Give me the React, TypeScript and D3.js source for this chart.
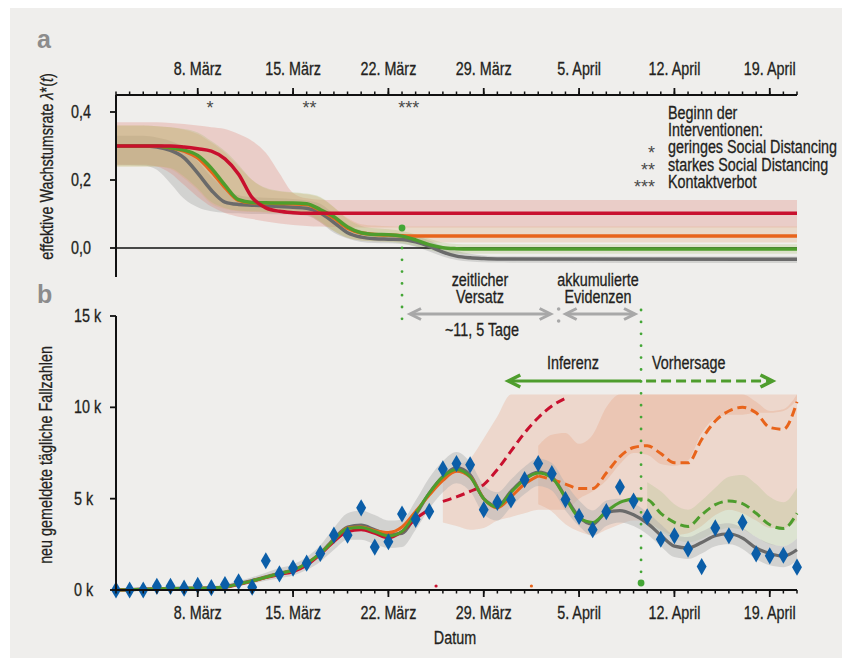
import * as React from 'react';
import * as d3 from 'd3';

const W = 842;
const H = 671;
const DAY = 864e5;
const t0 = new Date(Date.UTC(2020, 2, 2));
const t1 = new Date(Date.UTC(2020, 3, 21));

// panel a: knot days (days after 2 March) and effective growth rate per model
const rateDays = [0, 2, 3, 4, 5, 6, 7, 8, 9, 10, 11, 12, 13, 14, 15, 16, 17, 18, 19, 20, 21, 22, 23, 24, 25, 26, 27, 28, 50];
const rateRed = [0.3, 0.3, 0.3, 0.3, 0.297, 0.292, 0.285, 0.262, 0.217, 0.148, 0.118, 0.108, 0.104, 0.102, 0.102, 0.102, 0.102, 0.102, 0.102, 0.102, 0.102, 0.102, 0.102, 0.102, 0.102, 0.102, 0.102, 0.102, 0.102];
const rateOrange = [0.3, 0.3, 0.3, 0.295, 0.285, 0.265, 0.225, 0.178, 0.14, 0.133, 0.132, 0.131, 0.13, 0.128, 0.11, 0.088, 0.058, 0.044, 0.04, 0.038, 0.036, 0.035, 0.035, 0.035, 0.035, 0.035, 0.035, 0.035, 0.035];
const rateGreen = [0.3, 0.3, 0.3, 0.295, 0.288, 0.272, 0.235, 0.185, 0.142, 0.134, 0.133, 0.132, 0.132, 0.13, 0.113, 0.092, 0.062, 0.045, 0.04, 0.039, 0.035, 0.024, 0.01, 0.001, -0.002, -0.003, -0.003, -0.003, -0.003];
const rateGray = [0.3, 0.3, 0.297, 0.287, 0.265, 0.22, 0.17, 0.135, 0.128, 0.126, 0.124, 0.122, 0.12, 0.117, 0.103, 0.075, 0.045, 0.032, 0.027, 0.026, 0.025, 0.018, 0.005, -0.012, -0.024, -0.029, -0.031, -0.032, -0.033];

const rateRedLo = [0.245, 0.245, 0.24, 0.22, 0.185, 0.15, 0.122, 0.103, 0.092, 0.085, 0.078, 0.072, 0.068, 0.065, 0.063, 0.062, 0.061, 0.06, 0.06, 0.06, 0.06, 0.06, 0.06, 0.06, 0.06, 0.06, 0.06, 0.06, 0.06];
const rateRedHi = [0.37, 0.37, 0.37, 0.368, 0.365, 0.36, 0.355, 0.35, 0.335, 0.315, 0.28, 0.22, 0.162, 0.146, 0.142, 0.141, 0.141, 0.141, 0.141, 0.141, 0.141, 0.141, 0.141, 0.141, 0.141, 0.141, 0.141, 0.141, 0.141];
const rateOrangeLo = [0.24, 0.24, 0.24, 0.232, 0.205, 0.17, 0.13, 0.115, 0.108, 0.106, 0.104, 0.103, 0.102, 0.098, 0.076, 0.05, 0.03, 0.022, 0.02, 0.019, 0.018, 0.017, 0.016, 0.016, 0.016, 0.016, 0.016, 0.016, 0.016];
const rateOrangeHi = [0.36, 0.36, 0.358, 0.355, 0.348, 0.335, 0.31, 0.28, 0.24, 0.2, 0.175, 0.166, 0.162, 0.158, 0.148, 0.12, 0.088, 0.07, 0.066, 0.064, 0.063, 0.063, 0.063, 0.063, 0.063, 0.063, 0.063, 0.063, 0.063];
const rateGreenLo = [0.24, 0.24, 0.24, 0.235, 0.21, 0.175, 0.135, 0.118, 0.11, 0.108, 0.106, 0.105, 0.104, 0.1, 0.078, 0.05, 0.03, 0.022, 0.02, 0.018, 0.014, 0.005, -0.006, -0.014, -0.016, -0.017, -0.017, -0.017, -0.017];
const rateGreenHi = [0.36, 0.36, 0.358, 0.355, 0.35, 0.34, 0.315, 0.285, 0.245, 0.2, 0.177, 0.168, 0.164, 0.16, 0.15, 0.12, 0.085, 0.065, 0.058, 0.055, 0.05, 0.04, 0.027, 0.016, 0.012, 0.011, 0.011, 0.011, 0.011];
const rateGrayLo = [0.245, 0.243, 0.23, 0.19, 0.145, 0.12, 0.108, 0.104, 0.102, 0.1, 0.1, 0.099, 0.098, 0.095, 0.075, 0.045, 0.028, 0.018, 0.015, 0.014, 0.012, 0.004, -0.01, -0.025, -0.035, -0.04, -0.042, -0.043, -0.044];
const rateGrayHi = [0.33, 0.33, 0.325, 0.315, 0.295, 0.255, 0.21, 0.175, 0.155, 0.15, 0.148, 0.146, 0.144, 0.14, 0.13, 0.1, 0.07, 0.052, 0.045, 0.043, 0.042, 0.035, 0.022, 0.005, -0.008, -0.017, -0.022, -0.024, -0.025];

const rateTicks = [0, 0.2, 0.4];
const interventions = [{ day: 6.9, mark: '*' }, { day: 14.2, mark: '**' }, { day: 21.5, mark: '***' }];
const legendLines = ['Beginn der', 'Interventionen:'];
const legendItems = [
  { mark: '*', label: 'geringes Social Distancing' },
  { mark: '**', label: 'starkes Social Distancing' },
  { mark: '***', label: 'Kontaktverbot' },
];

// panel b: new reported cases per day, in thousands (day 0 = 2 March)
const reported = [0, 0, 0, 0.2, 0.2, 0.1, 0.25, 0.13, 0.3, 0.45, 0.15, 1.6, 0.88, 1.2, 1.47, 2.0, 3.0, 3.0, 4.5, 2.35, 2.64, 4.16, 3.87, 4.3, 6.63, 6.92, 6.85, 4.4, 4.8, 4.93, 6.04, 6.92, 6.37, 4.95, 4.03, 3.3, 4.29, 5.64, 4.87, 4.0, 2.78, 2.97, 2.24, 1.28, 3.4, 2.97, 3.7, 1.98, 1.87, 1.9, 1.25];
const casesGray = [0, 0.02, 0.04, 0.06, 0.08, 0.09, 0.1, 0.11, 0.17, 0.35, 0.52, 0.72, 0.92, 1.1, 1.45, 2.0, 2.8, 3.45, 3.55, 3.3, 3.05, 3.1, 4.1, 5.3, 6.2, 6.7, 6.3, 5.0, 4.6, 5.4, 6.1, 6.45, 6.2, 5.1, 4.0, 3.6, 4.25, 4.35, 4.12, 3.66, 3.0, 2.4, 2.3, 2.6, 2.97, 3.08, 2.84, 2.3, 2.0, 1.85, 2.2];
const casesGreen = [0, 0.02, 0.04, 0.06, 0.08, 0.09, 0.1, 0.11, 0.16, 0.33, 0.5, 0.7, 0.9, 1.08, 1.45, 2.0, 2.73, 3.37, 3.42, 3.2, 2.95, 3.2, 4.2, 5.3, 6.2, 6.6, 6.2, 5.0, 4.55, 5.35, 6.05, 6.4, 6.15, 5.05, 3.95, 3.7, 4.3, 4.8, 5.0, 4.95, 4.2, 3.7, 3.48, 4.12, 4.67, 4.87, 4.73, 4.2, 3.57, 3.37, 4.2];
const casesOrange = [0, 0.02, 0.04, 0.06, 0.08, 0.09, 0.1, 0.11, 0.16, 0.33, 0.5, 0.7, 0.9, 1.08, 1.45, 2.0, 2.75, 3.4, 3.45, 3.25, 3.15, 3.45, 4.3, 5.2, 6.0, 6.5, 6.2, 5.0, 4.5, 5.1, 5.8, 6.25, 6.05, 5.8, 5.55, 5.55, 6.4, 7.3, 7.8, 7.9, 7.47, 6.96, 6.96, 8.24, 9.25, 9.8, 10.0, 9.7, 8.9, 8.8, 10.3];
const casesRed = [0, 0.02, 0.04, 0.05, 0.06, 0.07, 0.08, 0.09, 0.15, 0.3, 0.48, 0.68, 0.85, 1.0, 1.35, 1.95, 2.65, 3.2, 3.3, 3.1, 2.85, 3.2, 3.9, 4.4, 4.85, 5.1, 5.4, 5.77, 6.6, 7.6, 8.6, 9.43, 10.07, 10.5];
// last day fitted with data for each model (dashed afterwards)
const fitEnd = { red: 23, orange: 31, green: 38 };
const fitEndMarks = [{ day: 23.5, color: 'red' }, { day: 30.5, color: 'orange' }];

const caseGrayLo = [-0.1, -0.08, -0.06, -0.04, -0.02, 0, 0, 0, 0.05, 0.2, 0.35, 0.5, 0.65, 0.8, 1.1, 1.55, 2.2, 2.75, 2.75, 2.5, 2.3, 2.35, 3.3, 4.45, 5.35, 5.85, 5.4, 4.15, 3.8, 4.55, 5.25, 5.7, 5.45, 4.35, 3.5, 2.95, 3.5, 3.7, 3.5, 3.05, 2.4, 1.8, 1.7, 2.0, 2.4, 2.5, 2.25, 1.7, 1.35, 1.25, 1.6];
const caseGrayHi = [0.1, 0.12, 0.14, 0.16, 0.18, 0.2, 0.2, 0.22, 0.3, 0.5, 0.7, 0.95, 1.2, 1.4, 1.8, 2.45, 3.4, 4.2, 4.35, 4.1, 3.8, 3.85, 4.9, 6.15, 7.05, 7.55, 7.0, 5.75, 5.35, 6.05, 6.75, 7.2, 6.95, 5.85, 4.9, 4.35, 4.9, 5.0, 4.75, 4.25, 3.6, 3.0, 2.9, 3.2, 3.55, 3.65, 3.4, 2.9, 2.55, 2.4, 2.8];
const caseRedStart = 24;
const caseRedLo = [3.7, 3.5, 3.3, 3.4, 3.8, 4.0, 4.2, 4.4, 4.4, 4.4, 5.0, 5.4, 6.0, 6.9, 7.5, 7.4, 6.9, 6.8, 7.1, 8.6, 9.4, 9.6, 9.6, 9.7, 9.7, 9.8, 10.4];
const caseRedHi = [6.3, 6.8, 7.2, 8.3, 9.5, 10.7, 10.7, 10.7, 10.7, 10.7, 10.7, 10.7, 10.7, 10.7, 10.7, 10.7, 10.7, 10.7, 10.7, 10.7, 10.7, 10.7, 10.7, 10.7, 10.7, 10.7, 10.7];
const caseOrangeStart = 31;
const caseOrangeLo = [4.7, 4.3, 3.6, 3.2, 3.0, 3.3, 3.6, 3.8, 3.7, 3.3, 3.0, 3.1, 3.5, 4.1, 4.4, 4.2, 3.8, 3.4, 3.4, 3.8];
const caseOrangeHi = [7.9, 8.5, 8.6, 8.0, 8.5, 10.0, 10.7, 10.7, 10.7, 10.7, 10.7, 10.7, 10.7, 10.7, 10.7, 10.7, 10.3, 9.8, 9.9, 10.7];
const caseGreenStart = 39;
const caseGreenLo = [3.6, 3.2, 2.8, 2.6, 2.8, 3.2, 3.4, 3.3, 2.9, 2.5, 2.4, 2.8];
const caseGreenHi = [5.9, 5.4, 4.7, 4.4, 4.9, 5.6, 6.2, 6.3, 5.8, 5.1, 4.8, 5.6];
const caseTicks = [0, 5, 10, 15];

// annotation days
const lagStart = 21;
const lagEnd = 32.5;
const today = 38.55;
const inferStart = 28.8;
const forecastEnd = 48.2;

const LEFT = 116;
const RIGHT = 797;
const A_TOP = 95;
const A_BOTTOM = 277;
const B_TOP = 316;
const B_BOTTOM = 590;

const COL = {
  red: '#c8102e',
  orange: '#e8641b',
  green: '#4e9d2d',
  gray: '#6a6a6a',
  blue: '#0b5ea8',
  dot: '#44a636',
  arrow: '#a8a8a8',
  text: '#231f20',
  bg: '#efeeec',
};
const FONT = "'Liberation Sans', Arial, sans-serif";
const FS = 17.5;

const de = d3.timeFormatLocale({
  dateTime: '%A, %e. %B %Y, %X',
  date: '%d.%m.%Y',
  time: '%H:%M:%S',
  periods: ['AM', 'PM'],
  days: ['Sonntag', 'Montag', 'Dienstag', 'Mittwoch', 'Donnerstag', 'Freitag', 'Samstag'],
  shortDays: ['So', 'Mo', 'Di', 'Mi', 'Do', 'Fr', 'Sa'],
  months: ['Januar', 'Februar', 'März', 'April', 'Mai', 'Juni', 'Juli', 'August', 'September', 'Oktober', 'November', 'Dezember'],
  shortMonths: ['Jan', 'Feb', 'Mrz', 'Apr', 'Mai', 'Jun', 'Jul', 'Aug', 'Sep', 'Okt', 'Nov', 'Dez'],
});
const fmtDate = de.utcFormat('%-d. %B');
const fmtRate = d3.formatLocale({ decimal: ',', thousands: '.', grouping: [3], currency: ['', ' €'] }).format('.1f');

// condensed text: Liberation Sans squeezed horizontally
const T = ({ x, y, anchor = 'start', rotate = 0, fill = COL.text, children }) => (
  <text
    transform={`translate(${x},${y})${rotate ? ` rotate(${rotate})` : ''} scale(0.82,1)`}
    textAnchor={anchor}
    fontFamily={FONT}
    fontSize={FS}
    fill={fill}
    stroke={fill}
    strokeWidth={0.3}>
    {children}
  </text>
);

const Chevron = ({ x, y, dir, size, color, width }) => (
  <polyline
    points={`${x - dir * size},${y - size * 0.5} ${x},${y} ${x - dir * size},${y + size * 0.5}`}
    fill='none'
    stroke={color}
    strokeWidth={width}
    strokeLinejoin='miter'
  />
);

const App = () => {
  const x = d3.scaleUtc().domain([t0, t1]).range([LEFT, RIGHT]);
  const xd = (d: number) => x(new Date(t0.getTime() + d * DAY));
  const yA = d3.scaleLinear().domain([-0.0853, 0.45]).range([A_BOTTOM, A_TOP]);
  const yB = d3.scaleLinear().domain([0, 15]).range([B_BOTTOM, B_TOP]);

  const dayTicks = x.ticks(d3.utcDay);
  const weekTicks = x.ticks(d3.utcWeek);

  const lineA = (vals: number[]) =>
    d3.line<number>().x((_, i) => xd(rateDays[i])).y((v) => yA(v)).curve(d3.curveMonotoneX)(vals);
  const areaA = (lo: number[], hi: number[]) =>
    d3
      .area<number>()
      .x((_, i) => xd(rateDays[i]))
      .y0((_, i) => yA(lo[i]))
      .y1((_, i) => yA(hi[i]))
      .curve(d3.curveMonotoneX)(lo);

  const lineB = (vals: number[], from: number, to: number) =>
    d3
      .line<number>()
      .x((_, i) => xd(from + i))
      .y((v) => yB(v))
      .curve(d3.curveMonotoneX)(vals.slice(from, to + 1));
  const areaB = (lo: number[], hi: number[], start: number) =>
    d3
      .area<number>()
      .x((_, i) => xd(start + i))
      .y0((_, i) => yB(lo[i]))
      .y1((_, i) => yB(hi[i]))
      .curve(d3.curveMonotoneX)(lo);

  const diamond = d3.symbol().type(d3.symbolDiamond).size(85)();

  const arrowY = 314;
  const inferY = 381;
  const star = { fontFamily: FONT, fontSize: 18, fill: '#4a4a4a' };

  return (
    <svg width={W} height={H} style={{ position: 'absolute', left: 0, top: 0 }}>
      <rect x={10} y={8} width={W - 10} height={650} fill={COL.bg} />

      {/* panel letters */}
      <text x={37} y={48} fontFamily={FONT} fontWeight='bold' fontSize={25} fill='#8c8c8c'>a</text>
      <text x={37} y={303} fontFamily={FONT} fontWeight='bold' fontSize={25} fill='#8c8c8c'>b</text>

      {/* ---------- panel a ---------- */}
      <path d={areaA(rateGrayLo, rateGrayHi)} fill='#b0b0b0' opacity={0.45} />
      <path d={areaA(rateRedLo, rateRedHi)} fill='#e07a6a' opacity={0.28} />
      <path d={areaA(rateOrangeLo, rateOrangeHi)} fill='#dea56e' opacity={0.28} />
      <path d={areaA(rateGreenLo, rateGreenHi)} fill='#a0b862' opacity={0.24} />
      <line x1={LEFT} x2={RIGHT} y1={yA(0)} y2={yA(0)} stroke='#111' strokeWidth={1.5} />
      <path d={lineA(rateGray)} fill='none' stroke={COL.gray} strokeWidth={3.5} />
      <path d={lineA(rateOrange)} fill='none' stroke={COL.orange} strokeWidth={3.5} />
      <path d={lineA(rateGreen)} fill='none' stroke={COL.green} strokeWidth={3.5} />
      <path d={lineA(rateRed)} fill='none' stroke={COL.red} strokeWidth={3.5} />

      {/* top date axis */}
      <line x1={LEFT} x2={RIGHT} y1={A_TOP} y2={A_TOP} stroke='#111' strokeWidth={2} />
      {dayTicks.map((d, i) => (
        <line key={'ad' + i} x1={x(d)} x2={x(d)} y1={A_TOP} y2={A_TOP - 3.5} stroke='#111' strokeWidth={1.5} />
      ))}
      {weekTicks.map((d, i) => (
        <g key={'aw' + i}>
          <line x1={x(d)} x2={x(d)} y1={A_TOP} y2={A_TOP - 7} stroke='#111' strokeWidth={1.8} />
          <T x={x(d)} y={75} anchor='middle'>{fmtDate(d)}</T>
        </g>
      ))}
      {/* rate axis */}
      <line x1={LEFT} x2={LEFT} y1={A_TOP} y2={A_BOTTOM} stroke='#111' strokeWidth={2} />
      {rateTicks.map((v) => (
        <g key={'rt' + v}>
          <line x1={LEFT - 6} x2={LEFT} y1={yA(v)} y2={yA(v)} stroke='#111' strokeWidth={1.8} />
          <T x={71} y={yA(v) + 6}>{fmtRate(v)}</T>
        </g>
      ))}
      <T x={53} y={166.5} anchor='middle' rotate={-90}>
        effektive Wachstumsrate <tspan fontStyle='italic'>λ</tspan>*(<tspan fontStyle='italic'>t</tspan>)
      </T>
      {interventions.map((m) => (
        <text key={m.mark} x={xd(m.day)} y={114} textAnchor='middle' {...star}>{m.mark}</text>
      ))}
      {legendLines.map((s, i) => (
        <T key={s} x={668} y={118.5 + i * 17.4}>{s}</T>
      ))}
      {legendItems.map((it, i) => (
        <g key={it.label}>
          <text x={655} y={158.5 + i * 17.4} textAnchor='end' {...star}>{it.mark}</text>
          <T x={668} y={153.4 + i * 17.4}>{it.label}</T>
        </g>
      ))}

      {/* ---------- annotations between panels ---------- */}
      <line x1={xd(lagStart)} x2={xd(lagStart)} y1={248} y2={320} stroke={COL.dot} strokeWidth={2.8} strokeLinecap='round' strokeDasharray='0 11.8' />
      <circle cx={xd(lagStart)} cy={228} r={3.4} fill={COL.dot} />
      <T x={480} y={286} anchor='middle'>zeitlicher</T>
      <T x={480} y={303.3} anchor='middle'>Versatz</T>
      <T x={598} y={286} anchor='middle'>akkumulierte</T>
      <T x={598} y={303.3} anchor='middle'>Evidenzen</T>
      <line x1={xd(lagStart) + 9} x2={xd(lagEnd) - 9} y1={arrowY} y2={arrowY} stroke={COL.arrow} strokeWidth={3} />
      <Chevron x={xd(lagStart) + 8} y={arrowY} dir={-1} size={11} color={COL.arrow} width={3} />
      <Chevron x={xd(lagEnd) - 8} y={arrowY} dir={1} size={11} color={COL.arrow} width={3} />
      <circle cx={xd(lagEnd)} cy={arrowY - 5} r={1.8} fill={COL.arrow} />
      <circle cx={xd(lagEnd)} cy={arrowY + 7} r={1.8} fill={COL.arrow} />
      <line x1={xd(lagEnd) + 8} x2={xd(today) - 7} y1={arrowY} y2={arrowY} stroke={COL.arrow} strokeWidth={3} />
      <Chevron x={xd(lagEnd) + 7} y={arrowY} dir={-1} size={11} color={COL.arrow} width={3} />
      <Chevron x={xd(today) - 6} y={arrowY} dir={1} size={11} color={COL.arrow} width={3} />
      <T x={482} y={335.7} anchor='middle'>~11, 5 Tage</T>

      {/* ---------- panel b ---------- */}
      <path d={areaB(caseRedLo, caseRedHi, caseRedStart)} fill='#e8956a' opacity={0.25} />
      <path d={areaB(caseOrangeLo, caseOrangeHi, caseOrangeStart)} fill='#e8956a' opacity={0.25} />
      <path d={areaB(caseGreenLo, caseGreenHi, caseGreenStart)} fill='#8fb86a' opacity={0.2} />
      <path d={areaB(caseGrayLo, caseGrayHi, 0)} fill='#b0b0b0' opacity={0.45} />

      <path d={lineB(casesGray, 0, 50)} fill='none' stroke={COL.gray} strokeWidth={3.2} />
      <path d={lineB(casesRed, 0, fitEnd.red)} fill='none' stroke={COL.red} strokeWidth={3} />
      <path d={lineB(casesRed, fitEnd.red + 1, casesRed.length - 1)} fill='none' stroke={COL.red} strokeWidth={3} strokeDasharray='9 5' />
      <path d={lineB(casesOrange, 0, fitEnd.orange)} fill='none' stroke={COL.orange} strokeWidth={3} />
      <path d={lineB(casesOrange, fitEnd.orange, 50)} fill='none' stroke={COL.orange} strokeWidth={3} strokeDasharray='9 5' />
      <path d={lineB(casesGreen, 0, fitEnd.green)} fill='none' stroke={COL.green} strokeWidth={3} />
      <path d={lineB(casesGreen, fitEnd.green, 50)} fill='none' stroke={COL.green} strokeWidth={3} strokeDasharray='9 5' />
      {fitEndMarks.map((m) => (
        <circle key={m.color} cx={xd(m.day)} cy={yB(0.22)} r={1.6} fill={COL[m.color]} />
      ))}

      {/* now line and inference / forecast arrows */}
      <line x1={xd(today)} x2={xd(today)} y1={310} y2={572} stroke={COL.dot} strokeWidth={2.8} strokeLinecap='round' strokeDasharray='0 11.9' />
      <circle cx={xd(today)} cy={583} r={3.4} fill={COL.dot} />
      <T x={573} y={369} anchor='middle'>Inferenz</T>
      <T x={xd(today) + 11} y={369}>Vorhersage</T>
      <line x1={xd(inferStart) + 2} x2={xd(today)} y1={inferY} y2={inferY} stroke={COL.green} strokeWidth={3.2} />
      <Chevron x={xd(inferStart)} y={inferY} dir={-1} size={12} color={COL.green} width={3.5} />
      <line x1={xd(today) + 5} x2={xd(forecastEnd) - 2} y1={inferY} y2={inferY} stroke={COL.green} strokeWidth={3.2} strokeDasharray='10 5' />
      <Chevron x={xd(forecastEnd)} y={inferY} dir={1} size={12} color={COL.green} width={3.5} />

      {reported.map((v, i) => (
        <path key={'r' + i} d={diamond} transform={`translate(${xd(i)},${yB(v)})`} fill={COL.blue} />
      ))}

      {/* bottom axes */}
      <line x1={LEFT} x2={RIGHT} y1={B_BOTTOM} y2={B_BOTTOM} stroke='#111' strokeWidth={2} />
      {dayTicks.map((d, i) => (
        <line key={'bd' + i} x1={x(d)} x2={x(d)} y1={B_BOTTOM} y2={B_BOTTOM + 3.5} stroke='#111' strokeWidth={1.5} />
      ))}
      {weekTicks.map((d, i) => (
        <g key={'bw' + i}>
          <line x1={x(d)} x2={x(d)} y1={B_BOTTOM} y2={B_BOTTOM + 7} stroke='#111' strokeWidth={1.8} />
          <T x={x(d)} y={618.5} anchor='middle'>{fmtDate(d)}</T>
        </g>
      ))}
      <T x={455} y={644} anchor='middle'>Datum</T>
      <line x1={LEFT} x2={LEFT} y1={B_TOP} y2={B_BOTTOM} stroke='#111' strokeWidth={2} />
      {caseTicks.map((v) => (
        <g key={'ct' + v}>
          <line x1={LEFT - 6} x2={LEFT} y1={yB(v)} y2={yB(v)} stroke='#111' strokeWidth={1.8} />
          <T x={74} y={yB(v) + 6}>{`${v} k`}</T>
        </g>
      ))}
      <T x={51.5} y={455} anchor='middle' rotate={-90}>neu gemeldete tägliche Fallzahlen</T>
    </svg>
  );
};

export default App;
